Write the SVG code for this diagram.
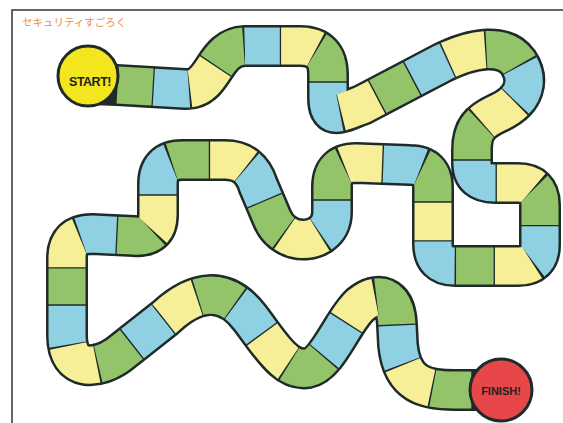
<svg xmlns="http://www.w3.org/2000/svg" xmlns:xlink="http://www.w3.org/1999/xlink" width="563" height="423" viewBox="0 0 563 423">
<style>
.edge{fill:none;stroke:#1e2b28;stroke-width:42;stroke-linejoin:round}
.tile{fill:none;stroke-width:37;stroke-dasharray:9.65 20.35}
.g{stroke:#93c46a}
.b{stroke:#8fd0e2}
.y{stroke:#f6ef97}
.o0{stroke-dashoffset:-0.175}
.o1{stroke-dashoffset:-10.175}
.o2{stroke-dashoffset:-20.175}
.circ{stroke:#1e2b28;stroke-width:3}
.lbl{font-family:"Liberation Sans",Arial,sans-serif;font-weight:bold;text-anchor:middle;fill:#22221a}
</style>
<defs>
<path id="s1" pathLength="70" d="M 117 85 L 185 89 C 215 91, 212 47, 245 46 L 300 46 Q 328 46, 328 75 L 328 82"/>
<path id="s2" pathLength="90" d="M 328 82 L 328 98 C 328 122, 342 112, 362 105 L 440 64 C 475 46, 505 44, 518 62 C 530 80, 525 100, 500 112 C 478 122, 472 130, 472 150 L 472 160"/>
<path id="s3" pathLength="80" d="M 472 160 L 472 163 Q 472 183, 495 183 L 518 183 Q 540 183, 540 205 L 540 245 Q 540 266, 518 266 L 455 266 Q 433 266, 433 244 L 433 202"/>
<path id="s4" pathLength="40" d="M 433 202 L 433 188 Q 433 165, 410 165 L 356 163 Q 332 163, 332 187 L 332 200"/>
<path id="s5" pathLength="70" d="M 332 200 L 332 212 C 332 245, 285 250, 272 218 L 258 185 Q 250 160, 225 160 L 182 160 Q 158 160, 158 184 L 158 195"/>
<path id="s6" pathLength="50" d="M 158 195 L 158 215 Q 158 238, 134 236 L 92 234 Q 67 234, 67 258 L 67 305"/>
<path id="s7" pathLength="120" d="M 67 305 L 67 335 C 67 375, 100 368, 118 355 L 165 318 C 195 290, 225 285, 250 318 C 270 344, 285 372, 308 368 C 328 364, 342 322, 360 305 C 378 290, 396 295, 397 325"/>
<path id="s8" pathLength="30" d="M 397 325 L 398 345 C 402 385, 425 390, 455 390 L 472 390"/>
</defs>
<rect x="0" y="0" width="563" height="423" fill="#ffffff"/>
<rect x="12" y="10" width="600" height="500" fill="none" stroke="#333333" stroke-width="1.5"/>
<text x="22" y="26" font-family="'Noto Sans CJK JP',sans-serif" font-size="10.5" fill="#e8904a">セキュリティすごろく</text>
<g id="board">
<path class="edge" d="M 92 84 L 117 85 L 185 89 C 215 91, 212 47, 245 46 L 300 46 Q 328 46, 328 75 L 328 98 C 328 122, 342 112, 362 105 L 440 64 C 475 46, 505 44, 518 62 C 530 80, 525 100, 500 112 C 478 122, 472 130, 472 150 L 472 163 Q 472 183, 495 183 L 518 183 Q 540 183, 540 205 L 540 245 Q 540 266, 518 266 L 455 266 Q 433 266, 433 244 L 433 188 Q 433 165, 410 165 L 356 163 Q 332 163, 332 187 L 332 212 C 332 245, 285 250, 272 218 L 258 185 Q 250 160, 225 160 L 182 160 Q 158 160, 158 184 L 158 215 Q 158 238, 134 236 L 92 234 Q 67 234, 67 258 L 67 335 C 67 375, 100 368, 118 355 L 165 318 C 195 290, 225 285, 250 318 C 270 344, 285 372, 308 368 C 328 364, 342 322, 360 305 C 378 290, 396 295, 397 325 L 398 345 C 402 385, 425 390, 455 390 L 500 390"/>
<g id="sec1"><use xlink:href="#s1" class="tile g o0"/><use xlink:href="#s1" class="tile b o1"/><use xlink:href="#s1" class="tile y o2"/></g>
<g id="sec2"><use xlink:href="#s2" class="tile b o0"/><use xlink:href="#s2" class="tile y o1"/><use xlink:href="#s2" class="tile g o2"/></g>
<g id="sec3"><use xlink:href="#s3" class="tile b o0"/><use xlink:href="#s3" class="tile y o1"/><use xlink:href="#s3" class="tile g o2"/></g>
<g id="sec4"><use xlink:href="#s4" class="tile g o0"/><use xlink:href="#s4" class="tile b o1"/><use xlink:href="#s4" class="tile y o2"/></g>
<g id="sec5"><use xlink:href="#s5" class="tile b o0"/><use xlink:href="#s5" class="tile y o1"/><use xlink:href="#s5" class="tile g o2"/></g>
<g id="sec6"><use xlink:href="#s6" class="tile y o0"/><use xlink:href="#s6" class="tile g o1"/><use xlink:href="#s6" class="tile b o2"/></g>
<g id="sec7"><use xlink:href="#s7" class="tile b o0"/><use xlink:href="#s7" class="tile y o1"/><use xlink:href="#s7" class="tile g o2"/></g>
<g id="sec8"><use xlink:href="#s8" class="tile b o0"/><use xlink:href="#s8" class="tile y o1"/><use xlink:href="#s8" class="tile g o2"/></g>
</g>
<g id="start">
<circle cx="88" cy="76" r="30" fill="#f4e61e" class="circ"/>
<text x="90" y="86" font-size="12.5" class="lbl" letter-spacing="-0.5">START!</text>
</g>
<g id="finish">
<circle cx="501" cy="390" r="31" fill="#e8474a" class="circ"/>
<text x="501" y="395" font-size="11" class="lbl" fill="#3a1c1c">FINISH!</text>
</g>
</svg>
